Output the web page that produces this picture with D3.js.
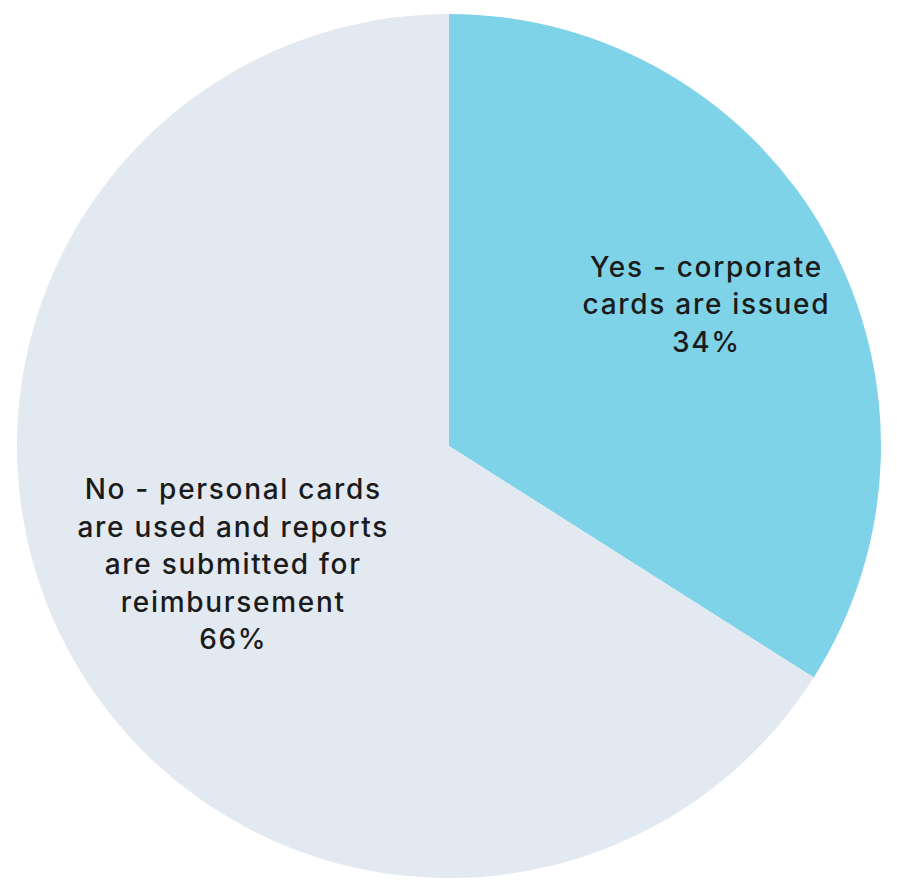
<!DOCTYPE html>
<html>
<head>
<meta charset="utf-8">
<script src="https://cdn.jsdelivr.net/npm/d3@7"></script>
<style>
  html, body { margin: 0; padding: 0; background: #ffffff; }
  svg { display: block; }
  text { font-family: "Inter", "Open Sans", sans-serif; font-weight: 500; fill: #1b1b1b; letter-spacing: 1.7px; }
</style>
</head>
<body>
<svg id="chart" width="897" height="887"></svg>
<script>
// Survey answers: are corporate cards issued?
const categories = [
  ["Yes - corporate", "cards are issued"],
  ["No - personal cards", "are used and reports", "are submitted for", "reimbursement"]
];
const values = [34, 66];
const colors = ["#7fd3e8", "#e3e9f0"];

const width = 897, height = 887;
const cx = 449, cy = 446, radius = 432;
// label distance from centre, as a fraction of the radius, for each slice
const labelFrac = [0.68, 0.57];
const lineHeight = 37.5;

const svg = d3.select("#chart");
const g = svg.append("g").attr("transform", `translate(${cx},${cy})`);

const pie = d3.pie().sort(null).value(d => d);
const arcs = pie(values);
const arc = d3.arc().innerRadius(0).outerRadius(radius);

g.selectAll("path.slice")
  .data(arcs)
  .join("path")
  .attr("class", "slice")
  .attr("d", arc)
  .attr("fill", (d, i) => colors[i]);

arcs.forEach((d, i) => {
  const r = radius * labelFrac[i];
  const [lx, ly] = d3.arc().innerRadius(r).outerRadius(r).centroid(d);
  const lines = categories[i].concat([values[i] + "%"]);
  const t = g.append("text")
    .attr("text-anchor", "middle")
    .attr("font-size", 28)
    .attr("x", lx)
    .attr("y", ly - (lines.length - 1) / 2 * lineHeight);
  lines.forEach((s, j) => {
    t.append("tspan")
      .attr("x", lx)
      .attr("dy", j === 0 ? "0.35em" : lineHeight)
      .text(s);
  });
});
</script>
</body>
</html>
